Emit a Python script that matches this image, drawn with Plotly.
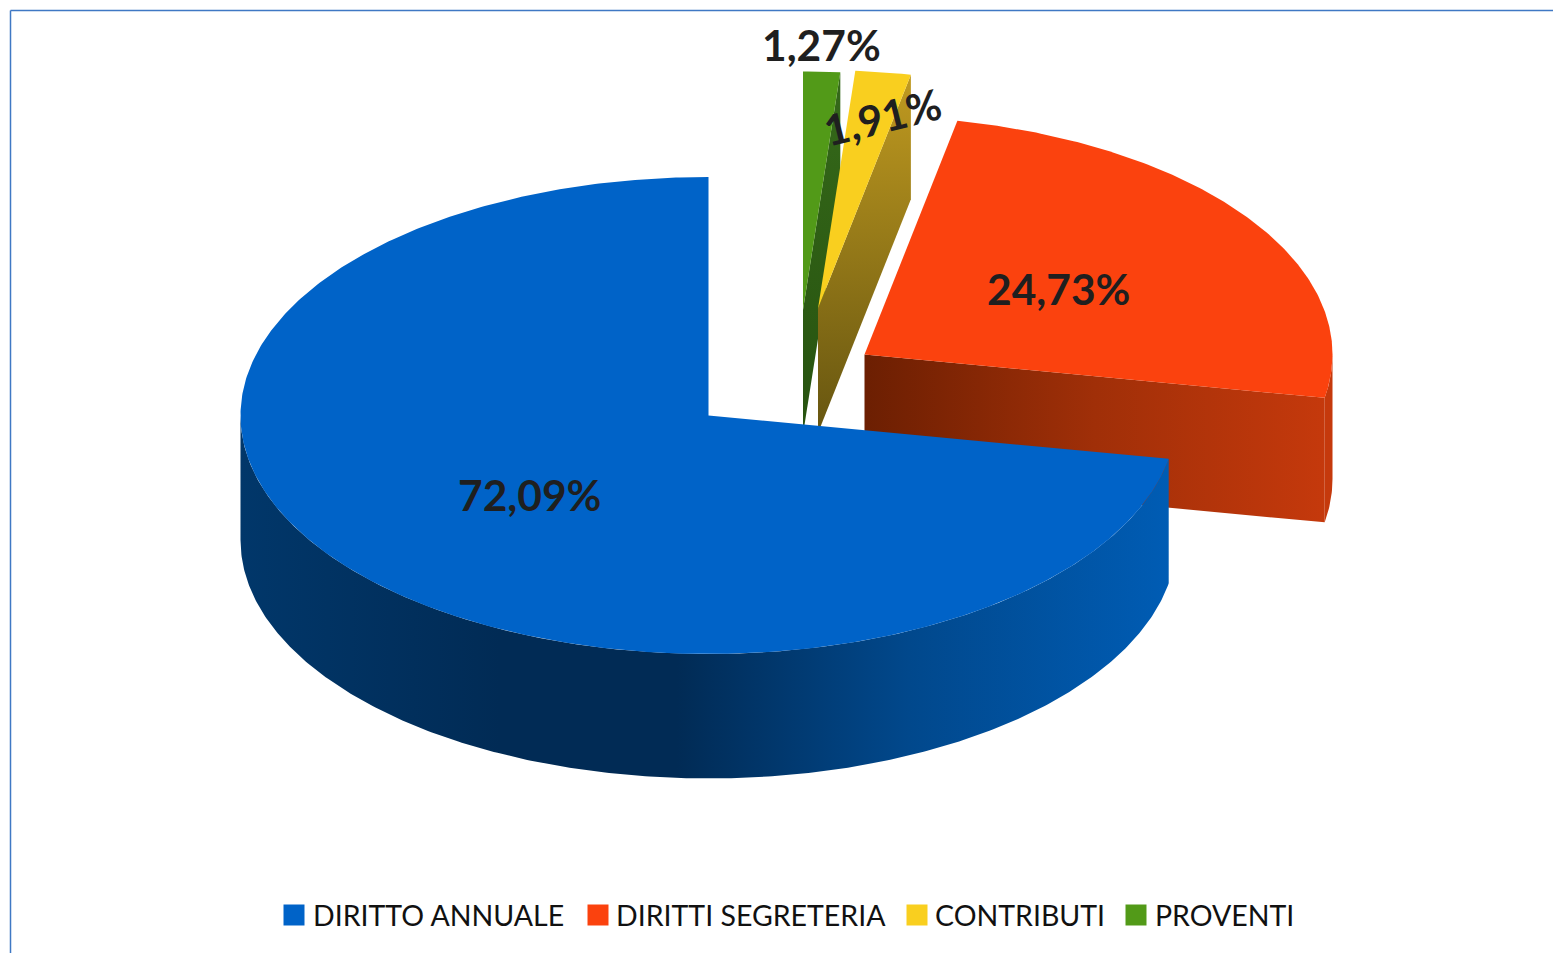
import numpy as np
import plotly.graph_objects as go

# ---- data ----
categories = ["DIRITTO ANNUALE", "DIRITTI SEGRETERIA", "CONTRIBUTI", "PROVENTI"]
values = [72.09, 24.73, 1.91, 1.27]
labels = ["72,09%", "24,73%", "1,91%", "1,27%"]

# ---- styling / layout ----
W, H = 1553, 953
colors = ["#0063C8", "#FB420E", "#F9CF1F", "#529A18"]
RX, RY, DEPTH = 468, 238.5, 124.5
centers = [(708.5, 415.5), (864.5, 354.5), (818, 308.5), (803, 310)]
label_pos = [(529, 494, 0), (1058, 288.5, 0), (882, 116, -14), (821.5, 44, 0)]
legend_sq = [294, 598, 917, 1136]
legend_tx = [311, 614, 933, 1153]
LEG_Y = 915

# Slices run clockwise from 12 o'clock: PROVENTI, CONTRIBUTI, SEGRETERIA, ANNUALE
order = [3, 2, 1, 0]
angles = {}
start = 0.0
for i in order:
    end = start + values[i] * 3.6
    angles[i] = (start, end)
    start = end


def arc(c, a0, a1, dy=0.0):
    t = np.radians(np.linspace(a0, a1, max(int(abs(a1 - a0) * 2), 2)))
    return c[0] + RX * np.sin(t), c[1] - RY * np.cos(t) + dy


def wedge(c, a0, a1):
    x, y = arc(c, a0, a1)
    return np.r_[c[0], x, c[0]], np.r_[c[1], y, c[1]]


def band(c, a0, a1):
    x, y = arc(c, a0, a1)
    xb, yb = arc(c, a0, a1, DEPTH)
    return np.r_[x, xb[::-1], x[0]], np.r_[y, yb[::-1], y[0]]


def cut_face(c, a):
    x, y = arc(c, a, a + 0.001)
    return (np.array([c[0], x[0], x[0], c[0], c[0]]),
            np.array([c[1], y[0], y[0] + DEPTH, c[1] + DEPTH, c[1]]))


def poly(x, y, name, color=None, grad=None):
    kw = dict(fillgradient=grad) if grad else dict(fillcolor=color)
    return go.Scatter(x=x, y=y, mode="lines", fill="toself", name=name,
                      line=dict(width=0), showlegend=False, hoverinfo="name", **kw)


def hgrad(*stops, kind="horizontal"):
    return dict(type=kind, colorscale=list(stops))


fig = go.Figure()

# green slice
c = centers[3]; a0, a1 = angles[3]
x, y = cut_face(c, a1)
fig.add_trace(poly(x, y, categories[3], grad=hgrad((0, "#27520F"), (1, "#35691A"), kind="vertical")))
x, y = wedge(c, a0, a1)
fig.add_trace(poly(x, y, categories[3], colors[3]))

# yellow slice
c = centers[2]; a0, a1 = angles[2]
x, y = cut_face(c, a1)
fig.add_trace(poly(x, y, categories[2], grad=hgrad((0, "#665510"), (1, "#C09A20"), kind="vertical")))
x, y = wedge(c, a0, a1)
fig.add_trace(poly(x, y, categories[2], colors[2]))

# red slice
c = centers[1]; a0, a1 = angles[1]
x, y = band(c, 90, a1)
fig.add_trace(poly(x, y, categories[1], "#C5390C"))
x, y = cut_face(c, a1)
fig.add_trace(poly(x, y, categories[1], grad=hgrad((0, "#6C1F02"), (0.5, "#A02F08"), (1, "#C5390C"))))
x, y = wedge(c, a0, a1)
fig.add_trace(poly(x, y, categories[1], colors[1]))

# blue slice
c = centers[0]; a0, a1 = angles[0]
x, y = band(c, a0, 270)
fig.add_trace(poly(x, y, categories[0], grad=hgrad(
    (0, "#01376A"), (0.28, "#012B55"), (0.47, "#012B55"), (0.72, "#01488C"), (1, "#005CB4"))))
x, y = wedge(c, a0, a1)
fig.add_trace(poly(x, y, categories[0], colors[0]))

# legend keys
for i, name in enumerate(categories):
    fig.add_trace(go.Scatter(x=[legend_sq[i]], y=[LEG_Y], mode="markers", name=name,
                             marker=dict(symbol="square", size=21, color=colors[i]),
                             showlegend=False, hoverinfo="name"))
    fig.add_annotation(x=legend_tx[i], y=LEG_Y, text=name, showarrow=False, xanchor="left",
                       yanchor="middle",
                       font=dict(family="Lato", size=28.5, color="#111111"))

for i, (px, py, ang) in enumerate(label_pos):
    fig.add_annotation(x=px, y=py, text="<b>%s</b>" % labels[i], showarrow=False,
                       textangle=ang, font=dict(family="Lato", size=42.5, color="#1F1F1F"))

border = dict(color="#3F78C4", width=1.5)
fig.add_shape(type="line", x0=10.5, x1=W, y0=10.5, y1=10.5, line=border)
fig.add_shape(type="line", x0=10.5, x1=10.5, y0=10.5, y1=H, line=border)

fig.update_layout(
    width=W, height=H, margin=dict(l=0, r=0, t=0, b=0),
    paper_bgcolor="white", plot_bgcolor="white", showlegend=False,
    xaxis=dict(range=[0, W], visible=False, fixedrange=True),
    yaxis=dict(range=[H, 0], visible=False, fixedrange=True),
)
fig.write_html("out.html", config={"displayModeBar": False},
               post_script="document.body.style.margin='0';document.body.style.overflow='hidden';")
